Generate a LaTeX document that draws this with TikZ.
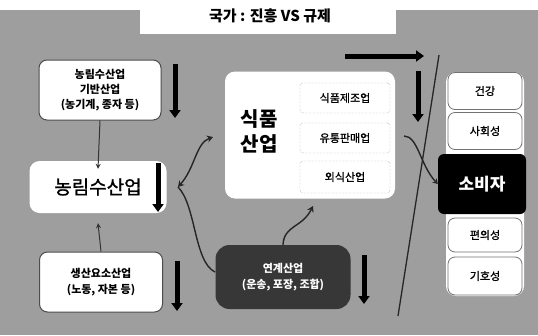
\documentclass[tikz,border=0pt]{standalone}
\usepackage{fontspec}
\newfontfamily\kr{Noto Sans CJK KR}
\newfontfamily\krm[FakeBold=1.2]{Noto Sans CJK KR}
\usetikzlibrary{arrows.meta}
\definecolor{bggray}{RGB}{158,158,158}
\definecolor{darkbox}{RGB}{55,55,55}
\begin{document}
\begin{tikzpicture}[x=1pt,y=-1pt,font=\kr,
  fatarrow/.style={line width=5pt,-{Triangle[width=11pt,length=8pt]}},
  thinarrow/.style={line width=1pt,black!80,-{Stealth[width=5pt,length=5pt]}},
  curvearrow/.style={line width=1.4pt,black!85},
  wbox/.style={draw=black!70,fill=white,rounded corners=8pt,line width=1pt,align=center,inner sep=0pt},
  softbox/.style={fill=white,rounded corners=10pt,inner sep=0pt,align=center},
  dotbox/.style={draw=black!50,densely dotted,fill=white,rounded corners=3pt,inner sep=0pt,minimum width=90pt},
  rbox/.style={draw=black!55,fill=white,rounded corners=7pt,inner sep=0pt,minimum width=74pt,line width=0.8pt},
]
\useasboundingbox (0,0) rectangle (538,335);
\fill[bggray] (0,10) rectangle (538,335);
\fill[white] (140,0) rectangle (396,34);
\node[font=\kr\bfseries\fontsize{15}{17}\selectfont] (title) at (270,16) {국가 : 진흥 VS 규제};

% left column
\node[wbox,minimum width=122pt,minimum height=60pt,font=\kr\bfseries\fontsize{11}{15}\selectfont] (base) at (100,90) {농림수산업\\기반산업\\(농기계, 종자 등)};
\node[softbox,minimum width=137pt,minimum height=52pt,font=\krm\fontsize{19}{22}\selectfont] (farm) at (98,187) {농림수산업};
\node[wbox,minimum width=123pt,minimum height=60pt,font=\kr\bfseries\fontsize{11}{16}\selectfont] (input) at (101,282) {생산요소산업\\(노동, 자본 등)};

\draw[thinarrow] (base.south) -- ([yshift=-8pt]farm.north);
\draw[thinarrow] (input.north) -- ([yshift=-10pt]farm.south);

\coordinate (a1s) at (175,64); \coordinate (a1e) at (175,118);
\draw[fatarrow] (a1s) -- (a1e);
\coordinate (a2s) at (158,163); \coordinate (a2e) at (158,212);
\draw[fatarrow] (a2s) -- (a2e);
\coordinate (a3s) at (177,261); \coordinate (a3e) at (177,311);
\draw[fatarrow] (a3s) -- (a3e);

% food industry
\node[softbox,minimum width=170pt,minimum height=127pt] (food) at (310,135) {};
\node[font=\kr\bfseries\fontsize{20}{25}\selectfont,align=center] (foodtxt) at (259,131) {식품\\산업};
\node[dotbox,minimum height=30pt,font=\krm\fontsize{11}{13}\selectfont] (manu) at (345,98) {식품제조업};
\node[dotbox,minimum height=30pt,font=\krm\fontsize{11}{13}\selectfont] (dist) at (345,138) {유통판매업};
\node[dotbox,minimum height=32pt,font=\krm\fontsize{11}{13}\selectfont] (rest) at (345,177) {외식산업};

% linked industry
\node[fill=darkbox,rounded corners=14pt,minimum width=135pt,minimum height=64pt,inner sep=0pt,align=center,text=white,font=\kr\bfseries\fontsize{11}{16}\selectfont] (link) at (283,277) {연계산업\\(운송, 포장, 조합)};

% bracket connector
\coordinate (j) at (178,187);
\coordinate (fe) at (213,137);
\coordinate (le) at (215,272);
\draw[curvearrow,{Stealth[width=7pt,length=6pt]}-{Stealth[width=7pt,length=6pt]}] (j) .. controls (195,168) and (196,143) .. (fe);
\draw[curvearrow] (j) .. controls (196,205) and (194,262) .. (le);
\coordinate (le2) at (313,206);
\draw[curvearrow,-{Stealth[width=7pt,length=6pt]}] (link.north) .. controls (284,225) and (302,228) .. (le2);

\coordinate (a4s) at (364,255); \coordinate (a4e) at (364,304);
\draw[fatarrow] (a4s) -- (a4e);
\coordinate (a5s) at (345,56); \coordinate (a5e) at (424,56);
\draw[fatarrow] (a5s) -- (a5e);
\coordinate (a6s) at (418,71); \coordinate (a6e) at (418,122);
\draw[fatarrow] (a6s) -- (a6e);

% diagonal line
\coordinate (d1) at (439,55); \coordinate (d2) at (398,316);
\draw[line width=1.3pt,black!85] (d1) -- (d2);

% right column
\fill[white,rounded corners=10pt] (446,72) rectangle (524,296);
\node[rbox,minimum height=37pt,font=\krm\fontsize{11}{13}\selectfont] (health) at (485,91) {건강};
\node[rbox,minimum height=37pt,font=\krm\fontsize{11}{13}\selectfont] (social) at (485,131) {사회성};
\node[fill=black,rounded corners=6pt,minimum width=88pt,minimum height=60pt,inner sep=0pt,text=white,font=\kr\bfseries\fontsize{17}{20}\selectfont] (cons) at (482,184) {소비자};
\node[rbox,minimum height=34pt,font=\krm\fontsize{11}{13}\selectfont] (conv) at (485,235) {편의성};
\node[rbox,minimum height=38pt,font=\krm\fontsize{11}{13}\selectfont] (pref) at (485,276) {기호성};

\coordinate (s1) at (404,136);
\draw[curvearrow,-{Stealth[width=6pt,length=5pt]}] (s1) .. controls (418,136) and (420,165) .. (cons.west);
\end{tikzpicture}
\end{document}
